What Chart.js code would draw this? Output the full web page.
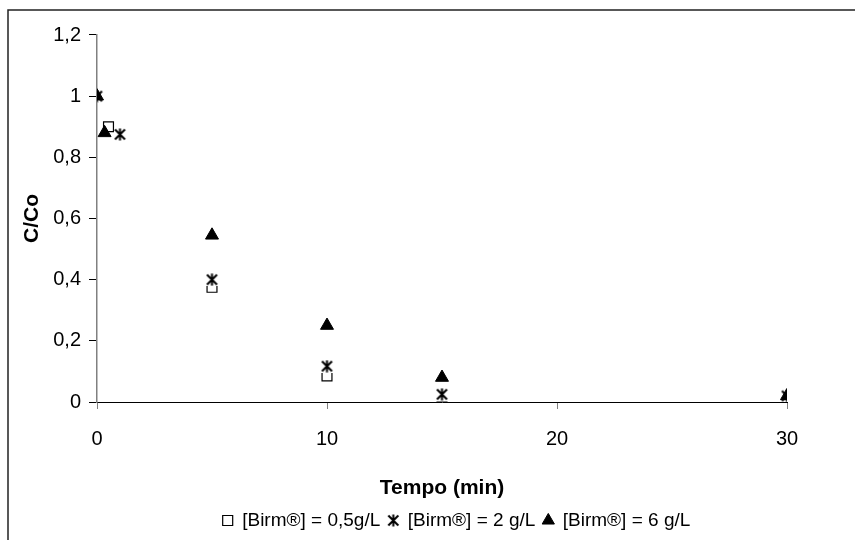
<!DOCTYPE html>
<html>
<head>
<meta charset="utf-8">
<script src="https://cdn.jsdelivr.net/npm/chart.js@4"></script>
<style>
  body { margin: 0; background: #fff; }
</style>
</head>
<body>
<canvas id="chart" width="855" height="540"></canvas>
<script>
'use strict';

// series data
const seriesNames = ['[Birm®] = 0,5g/L', '[Birm®] = 2 g/L', '[Birm®] = 6 g/L'];

const tempoA = [0, 0.5, 5, 10, 15, 30];
const valuesA = [1, 0.9, 0.375, 0.085, 0.02, 0.02];

const tempoB = [0, 1, 5, 10, 15, 30];
const valuesB = [1, 0.875, 0.4, 0.117, 0.025, 0.02];

const tempoC = [0, 0.33, 5, 10, 15, 30];
const valuesC = [1, 0.88, 0.545, 0.25, 0.08, 0.02];

const xTicks = [0, 10, 20, 30];
const yTicks = ['0', '0,2', '0,4', '0,6', '0,8', '1', '1,2'];

function toPoints(xs, ys) {
  let pts = [];
  for (let i = 0; i < xs.length; i++) {
    pts.push({ x: xs[i], y: ys[i] });
  }
  return pts;
}

// excel style asterisk marker, white box behind it
function makeStar() {
  let c = document.createElement('canvas');
  c.width = 13;
  c.height = 13;
  let g = c.getContext('2d');
  g.fillStyle = '#fff';
  g.fillRect(0, 0, 13, 13);
  g.strokeStyle = '#000';
  g.lineWidth = 2;
  g.beginPath();
  g.moveTo(1.5, 1.5); g.lineTo(11.5, 11.5);
  g.moveTo(11.5, 1.5); g.lineTo(1.5, 11.5);
  g.moveTo(6.5, 0.5); g.lineTo(6.5, 12.5);
  g.stroke();
  return c;
}

const frame = {
  id: 'frame',
  afterLayout(chart) {
    // legend sits a bit right of the plot centre in the original
    let lg = chart.legend;
    if (lg) {
      lg.left = 58;
      lg.right = 855;
      lg.width = lg.right - lg.left;
    }
  },
  beforeDraw(chart) {
    let ctx = chart.ctx;
    ctx.save();
    ctx.fillStyle = '#fff';
    ctx.fillRect(0, 0, chart.width, chart.height);
    ctx.strokeStyle = '#222';
    ctx.lineWidth = 1.5;
    ctx.beginPath();
    ctx.moveTo(855, 10);
    ctx.lineTo(8, 10);
    ctx.lineTo(8, 540);
    ctx.stroke();
    ctx.restore();
  }
};

const ctx = document.getElementById('chart').getContext('2d');

new Chart(ctx, {
  type: 'scatter',
  data: {
    datasets: [{
      label: seriesNames[0],
      data: toPoints(tempoA, valuesA),
      pointStyle: 'rect',
      pointRadius: 7,
      backgroundColor: '#fff',
      borderColor: '#000',
      borderWidth: 1.2,
      order: 3
    }, {
      label: seriesNames[1],
      data: toPoints(tempoB, valuesB),
      pointStyle: makeStar(),
      pointRadius: 7,
      backgroundColor: '#fff',
      borderColor: '#000',
      order: 2
    }, {
      label: seriesNames[2],
      data: toPoints(tempoC, valuesC),
      pointStyle: 'triangle',
      pointRadius: 7.5,
      backgroundColor: '#000',
      borderColor: '#000',
      borderWidth: 1,
      order: 1
    }]
  },
  options: {
    responsive: false,
    animation: false,
    layout: { padding: { left: 8, top: 35, right: 68, bottom: 0 } },
    plugins: {
      tooltip: { enabled: false },
      legend: {
        position: 'bottom',
        labels: {
          usePointStyle: true,
          boxWidth: 10,
          boxHeight: 10,
          padding: 8,
          color: '#000',
          font: { family: 'Liberation Sans, Arial', size: 19 },
          sort: (a, b) => a.datasetIndex - b.datasetIndex
        }
      }
    },
    scales: {
      x: {
        type: 'linear',
        min: 0,
        max: 30,
        afterBuildTicks: (scale) => { scale.ticks = xTicks.map(v => ({ value: v })); },
        afterFit: (scale) => { scale.height = 101; },
        grid: { drawOnChartArea: false, color: '#808080', tickLength: 7 },
        border: { color: '#000', width: 1 },
        ticks: { color: '#000', padding: 18, font: { family: 'Liberation Sans, Arial', size: 20 } },
        title: {
          display: true,
          text: 'Tempo (min)',
          color: '#000',
          padding: { top: 0, bottom: 2 },
          font: { family: 'Liberation Sans, Arial', size: 21, weight: 'bold' }
        }
      },
      y: {
        min: 0,
        max: 1.2,
        afterBuildTicks: (scale) => { scale.ticks = yTicks.map((t, i) => ({ value: i * 0.2 })); },
        afterFit: (scale) => { scale.width = 89; },
        grid: { drawOnChartArea: false, color: '#000', tickLength: 8 },
        border: { color: '#808080', width: 1.5 },
        ticks: {
          color: '#000',
          padding: 8,
          font: { family: 'Liberation Sans, Arial', size: 20 },
          callback: (v, i) => yTicks[i]
        },
        title: {
          display: true,
          text: 'C/Co',
          color: '#000',
          padding: { top: 12, bottom: 0 },
          font: { family: 'Liberation Sans, Arial', size: 21, weight: 'bold' }
        }
      }
    }
  },
  plugins: [frame]
});
</script>
</body>
</html>
